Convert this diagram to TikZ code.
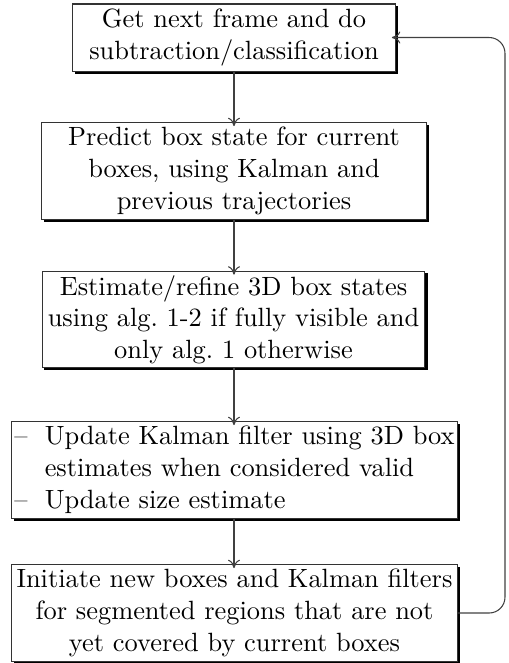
\documentclass[tikz,border=0pt]{standalone}
\usetikzlibrary{arrows.meta}
\begin{document}
\begin{tikzpicture}[x=0.3788pt,y=-0.3788pt,
  stepbox/.style={draw=black!80, fill=white, line width=0.4pt, align=center,
    inner sep=0pt, minimum height=36.4pt},
  boxshadow/.style={fill=black},
  flow/.style={draw=black!75, line width=0.4pt,
    -{To[length=3.2pt,width=4.6pt]}, shorten >=-1.4pt}]
\useasboundingbox (0,0) rectangle (509,663);

% the boxes are drawn first, invisibly, to place their shadows below them
\begin{scope}[every node/.append style={draw=none, fill=none, text opacity=0}]
\node[stepbox, minimum width=122pt, minimum height=25.4pt] (s1) at (234,37.5) {};
\node[stepbox, minimum width=145.5pt] (s2) at (234,171) {};
\node[stepbox, minimum width=145pt] (s3) at (233.5,319.5) {};
\node[stepbox, minimum width=168.6pt] (s4) at (234.5,470) {};
\node[stepbox, minimum width=168.6pt] (s5) at (234.5,613) {};
\end{scope}
\foreach \s in {s1,s2,s3,s4,s5}
  \fill[boxshadow] ([xshift=0.85pt,yshift=-0.85pt]\s.south west)
                   rectangle ([xshift=0.85pt,yshift=-0.85pt]\s.north east);

\node[stepbox, minimum width=122pt, minimum height=25.4pt] (frame) at (234,37.5)
  {Get next frame and do\\subtraction/classification};
\node[stepbox, minimum width=145.5pt] (predict) at (234,171)
  {Predict box state for current\\boxes, using Kalman and\\previous trajectories};
\node[stepbox, minimum width=145pt] (refine) at (233.5,319.5)
  {Estimate/refine 3D box states\\using alg.~1-2 if fully visible and\\only alg.~1 otherwise};
\node[stepbox, minimum width=168.6pt, align=left] (update) at (234.5,470)
  {\begin{tabular}{@{}l@{\hspace{6.5pt}}l@{}}
   -- & Update Kalman filter using 3D box\\
      & estimates when considered valid\\
   -- & Update size estimate
   \end{tabular}};
\node[stepbox, minimum width=168.6pt] (init) at (234.5,613)
  {Initiate new boxes and Kalman filters\\for segmented regions that are not\\yet covered by current boxes};

\draw[flow] (frame.south -| 234,0) -- (predict.north -| 234,0);
\draw[flow] (predict.south -| 234,0) -- (refine.north -| 234,0);
\draw[flow] (refine.south -| 234,0) -- (update.north -| 234,0);
\draw[flow] (update.south -| 234,0) -- (init.north -| 234,0);
\draw[flow, rounded corners=6pt] (init.east) -- (505,613) -- (505,37.5) -- (frame.east);
\end{tikzpicture}
\end{document}
